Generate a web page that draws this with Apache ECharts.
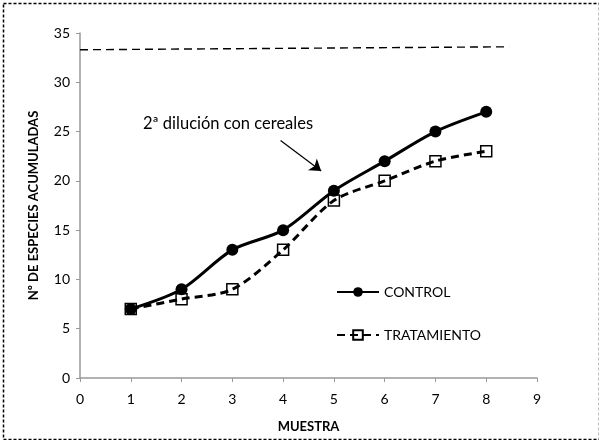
<!DOCTYPE html>
<html>
<head>
<meta charset="utf-8">
<script src="https://cdn.jsdelivr.net/npm/echarts@6/dist/echarts.min.js"></script>
<style>
  html, body { margin: 0; padding: 0; background: #fff; }
  #chart { width: 599px; height: 440px; }
</style>
</head>
<body>
<div id="chart"></div>
<script>
// valores
const muestras = [1, 2, 3, 4, 5, 6, 7, 8];
const control = [7, 9, 13, 15, 19, 22, 25, 27];
const tratamiento = [7, 8, 9, 13, 18, 20, 22, 23];
const limite = [[0, 33.3], [8.45, 33.6]];
const flecha = [[3.95, 24.1], [4.75, 21.0]];
const nota = '2ª dilución con cereales';

const font = 'Lato, "Open Sans", sans-serif';
const pair = (xs, ys) => xs.map((x, i) => [x, ys[i]]);

const chart = echarts.init(document.getElementById('chart'));

chart.setOption({
  animation: false,
  textStyle: {fontFamily: font},
  grid: {left: 80, right: 62, top: 33, bottom: 62, containLabel: false},
  legend: {
    orient: 'vertical',
    left: 331,
    top: 280,
    itemGap: 29,
    itemWidth: 42,
    itemHeight: 12,
    textStyle: {fontSize: 14, color: '#000', fontFamily: font},
    data: ['CONTROL', 'TRATAMIENTO'],
  },
  xAxis: {
    type: 'value',
    min: 0,
    max: 9,
    interval: 1,
    name: 'MUESTRA',
    nameLocation: 'middle',
    nameGap: 42,
    nameTextStyle: {fontWeight: 'bold', fontSize: 13, color: '#000'},
    axisLine: {lineStyle: {color: '#999', width: 1.5}},
    axisTick: {show: true, length: 4, lineStyle: {color: '#999'}},
    axisLabel: {fontSize: 14, color: '#000', margin: 14},
    splitLine: {show: false},
  },
  yAxis: {
    type: 'value',
    min: 0,
    max: 35,
    interval: 5,
    name: 'Nº DE ESPECIES ACUMULADAS',
    nameLocation: 'middle',
    nameGap: 40,
    nameTextStyle: {fontWeight: 'bold', fontSize: 13, color: '#000'},
    axisLine: {show: true, lineStyle: {color: '#999', width: 1.5}},
    axisTick: {show: true, length: 4, lineStyle: {color: '#999'}},
    axisLabel: {fontSize: 14, color: '#000', margin: 10},
    splitLine: {show: false},
  },
  series: [
    {
      name: 'CONTROL',
      type: 'line',
      smooth: 0.3,
      symbol: 'circle',
      symbolSize: 12,
      lineStyle: {color: '#000', width: 3},
      itemStyle: {color: '#000'},
      data: pair(muestras, control),
      z: 3,
    },
    {
      name: 'TRATAMIENTO',
      type: 'line',
      smooth: 0.3,
      symbol: 'rect',
      symbolSize: 11,
      lineStyle: {color: '#000', width: 3, type: [8, 5]},
      itemStyle: {color: 'rgba(255,255,255,0)', borderColor: '#000', borderWidth: 1.5},
      data: pair(muestras, tratamiento),
      z: 4,
    },
    {
      name: 'limite',
      type: 'line',
      symbol: 'none',
      silent: true,
      lineStyle: {color: '#000', width: 1.4, type: [8, 5]},
      data: limite,
      z: 2,
    },
    {
      name: 'flecha',
      type: 'lines',
      coordinateSystem: 'cartesian2d',
      silent: true,
      symbol: ['none', 'arrow'],
      symbolSize: 11,
      lineStyle: {color: '#000', width: 1.2, opacity: 1},
      data: [{coords: flecha}],
      z: 2,
    },
  ],
  graphic: [
    {
      type: 'rect',
      left: 1,
      top: 1,
      shape: {width: 596, height: 436},
      style: {fill: 'none', stroke: '#000', lineWidth: 1.5, lineDash: [3, 2]},
      silent: true,
    },
    {
      type: 'text',
      left: 143,
      top: 115,
      style: {text: nota, fontSize: 16.5, fill: '#000', fontFamily: font},
    },
  ],
});
</script>
</body>
</html>
